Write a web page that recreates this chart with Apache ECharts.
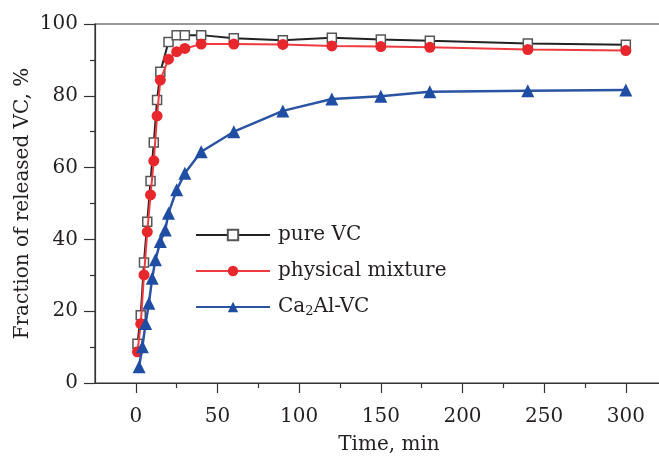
<!DOCTYPE html>
<html>
<head>
<meta charset="utf-8">
<script src="https://cdn.jsdelivr.net/npm/echarts@6/dist/echarts.min.js"></script>
<style>
html,body{margin:0;padding:0;background:#fff;}
#c{width:659px;height:457px;}
</style>
</head>
<body>
<div id="c"></div>
<script>
// Data
const timesPure = [1,3,5,7,9,11,13,15,20,25,30,40,60,90,120,150,180,240,300];
const pureVC = [10.9,18.9,33.6,44.9,56.3,67,78.8,86.7,95,96.9,96.9,96.9,96,95.5,96.2,95.7,95.3,94.6,94.2];
const timesMix = [1,3,5,7,9,11,13,15,20,25,30,40,60,90,120,150,180,240,300];
const physicalMixture = [8.7,16.5,30.1,42.1,52.4,61.9,74.4,84.4,90.2,92.3,93.2,94.4,94.4,94.3,93.9,93.7,93.5,92.9,92.6];
const timesCa = [2,4,6,8,10,12,15,18,20,25,30,40,60,90,120,150,180,240,300];
const ca2AlVC = [4.5,10.1,16.6,22.2,29.2,34.3,39.4,42.6,47.3,53.8,58.4,64.4,70,75.8,79.1,79.9,81.1,81.4,81.6];
const seriesNames = ['pure VC','physical mixture','Ca2Al-VC'];
const xMajorTicks = [0,50,100,150,200,250,300];
const xMinorTicks = [25,75,125,175,225,275,325];

const FONT = 'DejaVu Serif';
const TXT = '#231f20';
const pair = (t, v) => t.map((x, i) => [x, v[i]]);

const chart = echarts.init(document.getElementById('c'), null, {renderer: 'canvas'});
chart.setOption({
  animation: false,
  backgroundColor: '#fff',
  grid: {left: 95, top: 24, right: -24, bottom: 74, show: true, borderColor: '#333', borderWidth: 1.2,
         containLabel: false, outerBoundsMode: 'none'},
  legend: {
    left: 190, top: 219, orient: 'vertical',
    itemWidth: 74, itemHeight: 13, itemGap: 14,
    data: seriesNames,
    formatter: n => n === 'Ca2Al-VC' ? 'Ca{sub|2}Al-VC' : n,
    textStyle: {
      fontFamily: FONT, fontSize: 20, color: TXT, lineHeight: 22, padding: [0,0,0,3],
      rich: {sub: {fontFamily: FONT, fontSize: 13, color: TXT, verticalAlign: 'bottom', lineHeight: 22, padding: [9,0,0,0]}}
    }
  },
  xAxis: [{
    type: 'value', min: -25, max: 335,
    name: 'Time, min', nameLocation: 'middle', nameGap: 52,
    nameTextStyle: {fontFamily: FONT, fontSize: 20, color: TXT},
    axisLine: {show: true, onZero: false, lineStyle: {color: '#333', width: 1.2}},
    axisTick: {show: true, length: 10, customValues: xMajorTicks, lineStyle: {color: '#333', width: 1.2}},
    axisLabel: {customValues: xMajorTicks, fontFamily: FONT, fontSize: 20, color: TXT, margin: 24},
    splitLine: {show: false}
  }, {
    type: 'value', min: -25, max: 335, position: 'bottom',
    axisLine: {show: false},
    axisTick: {show: true, length: 5, customValues: xMinorTicks, lineStyle: {color: '#333', width: 1.2}},
    axisLabel: {show: false},
    splitLine: {show: false}
  }],
  yAxis: {
    type: 'value', min: 0, max: 100, interval: 20,
    name: 'Fraction of released VC, %', nameLocation: 'middle', nameGap: 62, nameMoveOverlap: false,
    nameTextStyle: {fontFamily: FONT, fontSize: 20, color: TXT},
    axisLine: {show: true, onZero: false, lineStyle: {color: '#333', width: 1.2}},
    axisTick: {show: true, length: 11, lineStyle: {color: '#333', width: 1.2}},
    minorTick: {show: true, splitNumber: 2, length: 5, lineStyle: {color: '#333', width: 1.2}},
    axisLabel: {fontFamily: FONT, fontSize: 20, color: TXT, margin: 17},
    splitLine: {show: false}
  },
  series: [{
    name: 'pure VC', type: 'line', data: pair(timesPure, pureVC),
    symbol: 'rect', symbolSize: 9,
    lineStyle: {color: '#222', width: 2},
    itemStyle: {color: '#fff', borderColor: '#555', borderWidth: 1.5},
    z: 2
  }, {
    name: 'physical mixture', type: 'line', data: pair(timesMix, physicalMixture),
    symbol: 'circle', symbolSize: 11,
    lineStyle: {color: '#ef3b3f', width: 2},
    itemStyle: {color: '#e8272c'},
    z: 3
  }, {
    name: 'Ca2Al-VC', type: 'line', data: pair(timesCa, ca2AlVC),
    symbol: 'triangle', symbolSize: 13,
    lineStyle: {color: '#2a53a4', width: 2.5},
    itemStyle: {color: '#1f4da3'},
    z: 4
  }]
});
</script>
</body>
</html>
